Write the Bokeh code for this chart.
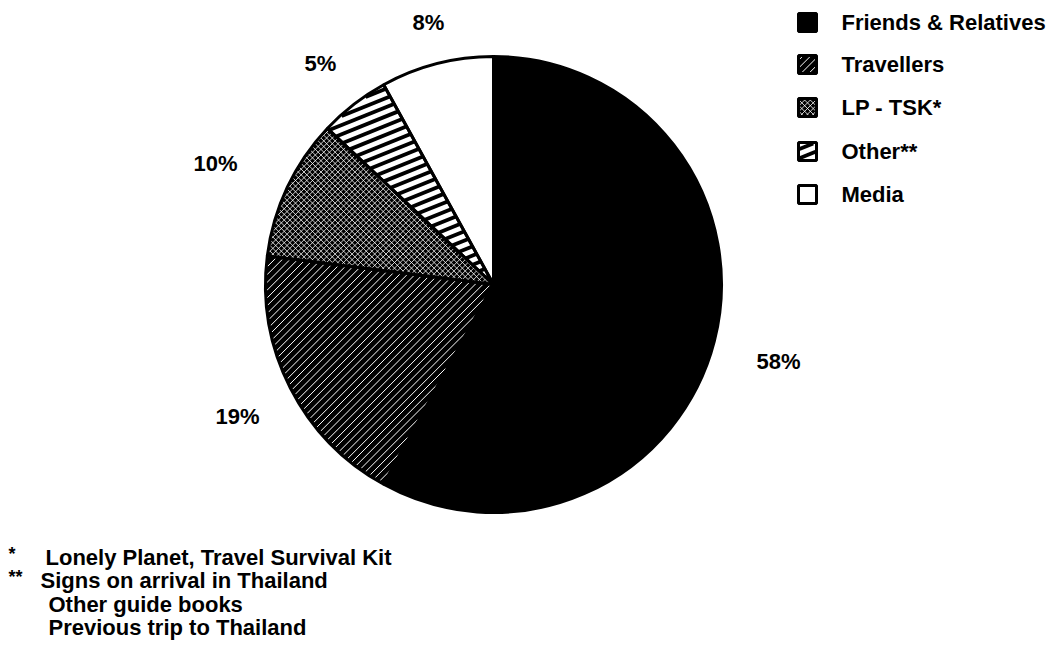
import numpy as np
from bokeh.plotting import figure
from bokeh.models import Range1d
from bokeh.core.properties import value
from bokeh.embed import file_html
from bokeh.resources import INLINE

categories = ["Friends & Relatives", "Travellers", "LP - TSK*", "Other**", "Media"]
shares = [58, 19, 10, 5, 8]
pct_labels = ["58%", "19%", "10%", "5%", "8%"]
footnotes = ["Lonely Planet, Travel Survival Kit", "Signs on arrival in Thailand",
             "Other guide books", "Previous trip to Thailand"]
footnote_marks = ["*", "**", "", ""]

W, H = 1060, 662
FONT = "Liberation Sans"
FS = "22px"

p = figure(width=W, height=H, output_backend="svg", toolbar_location=None,
           x_range=Range1d(0, W), y_range=Range1d(0, H), min_border=0)
p.axis.visible = False
p.grid.visible = False
p.outline_line_color = None


def Y(py):
    return H - py


cx, cy, r = 493, Y(284), 228

# slice styles: fill, hatch line sets (angle deg, spacing, colour, width)
fills = ["black", "black", "black", "white", "white"]
hatch_sets = [
    [],
    [(45, 5.5, "white", 1.0)],
    [(45, 4, "white", 0.8), (-45, 4, "white", 0.8)],
    [(22, 8.5, "black", 3.8)],
    [],
]


def hatch_lines(inside, x0, x1, y0, y1, ang_deg, spacing):
    a = np.deg2rad(ang_deg)
    d = np.array([np.cos(a), np.sin(a)])
    n = np.array([-np.sin(a), np.cos(a)])
    corners = np.array([[x0, y0], [x0, y1], [x1, y0], [x1, y1]])
    proj = corners @ n
    diag = np.hypot(x1 - x0, y1 - y0)
    mid = np.array([(x0 + x1) / 2, (y0 + y1) / 2])
    xs, ys = [], []
    t = np.linspace(-diag, diag, 3000)
    base = mid @ n
    for o in np.arange(proj.min() - spacing, proj.max() + spacing, spacing):
        pt = mid + n * (o - base)
        px = pt[0] + t * d[0]
        py = pt[1] + t * d[1]
        m = inside(px, py)
        if m.any():
            idx = np.where(m)[0]
            xs.append([px[idx[0]], px[idx[-1]]])
            ys.append([py[idx[0]], py[idx[-1]]])
    return xs, ys


# anticlockwise from 12 o'clock: Media, Other, LP, Travellers, Friends
total = sum(shares)
order = list(range(len(shares)))[::-1]
angle = np.pi / 2
starts = [0.0] * len(shares)
ends = [0.0] * len(shares)
for i in order:
    a = shares[i] / total * 2 * np.pi
    starts[i] = angle
    ends[i] = angle + a
    angle += a

for i in range(len(shares)):
    p.wedge(x=cx, y=cy, radius=r, start_angle=starts[i], end_angle=ends[i],
            direction="anticlock", fill_color=fills[i], line_color=None)

for i in range(len(shares)):
    s, e = starts[i], ends[i]

    def inside(px, py, s=s, e=e):
        dx, dy = px - cx, py - cy
        rr = np.hypot(dx, dy)
        th = np.mod(np.arctan2(dy, dx) - s, 2 * np.pi)
        return (rr <= r - 1) & (th <= e - s)

    for (ang, sp, col, lw) in hatch_sets[i]:
        xs, ys = hatch_lines(inside, cx - r, cx + r, cy - r, cy + r, ang, sp)
        p.multi_line(xs=xs, ys=ys, line_color=col, line_width=lw, line_cap="butt")

for i in range(len(shares)):
    p.wedge(x=cx, y=cy, radius=r, start_angle=starts[i], end_angle=ends[i],
            direction="anticlock", fill_color=None, line_color="black", line_width=3)

# percentage labels
lab_pos = [(778, 361), (237, 416), (215, 163), (320, 63), (428, 22)]
for i in range(len(shares)):
    lx, ly = lab_pos[i]
    p.text(x=[lx], y=[Y(ly)], text=[pct_labels[i]], text_font=value(FONT),
           text_font_size=FS, text_font_style="bold", text_align="center",
           text_baseline="middle", text_color="black")

# legend
leg_y = [22, 64, 107, 151, 194]
lx, hs = 807, 9
for i in range(len(categories)):
    ly = Y(leg_y[i])
    p.rect(x=[lx], y=[ly], width=2 * hs, height=2 * hs, fill_color=fills[i], line_color=None)

    def inside_sq(px, py, ly=ly):
        return (np.abs(px - lx) <= hs - 1) & (np.abs(py - ly) <= hs - 1)

    for (ang, sp, col, lw) in hatch_sets[i]:
        xs, ys = hatch_lines(inside_sq, lx - hs, lx + hs, ly - hs, ly + hs, ang, sp)
        p.multi_line(xs=xs, ys=ys, line_color=col, line_width=lw, line_cap="butt")
    p.rect(x=[lx], y=[ly], width=2 * hs, height=2 * hs, fill_color=None,
           line_color="black", line_width=3)
    p.text(x=[841], y=[ly], text=[categories[i]], text_font=value(FONT),
           text_font_size=FS, text_font_style="bold", text_align="left",
           text_baseline="middle", text_color="black")

# footnotes
fn_y = [557, 580, 604, 627]
fn_x = [45, 40, 48, 48]
for i in range(len(footnotes)):
    if footnote_marks[i]:
        p.text(x=[8], y=[Y(fn_y[i]) + 4], text=[footnote_marks[i]], text_font=value(FONT),
               text_font_size="18px", text_align="left", text_baseline="middle",
               text_font_style="bold", text_color="black")
    p.text(x=[fn_x[i]], y=[Y(fn_y[i])], text=[footnotes[i]], text_font=value(FONT),
           text_font_size=FS, text_font_style="bold", text_align="left",
           text_baseline="middle", text_color="black")

open("out.html", "w").write(file_html(p, INLINE))
